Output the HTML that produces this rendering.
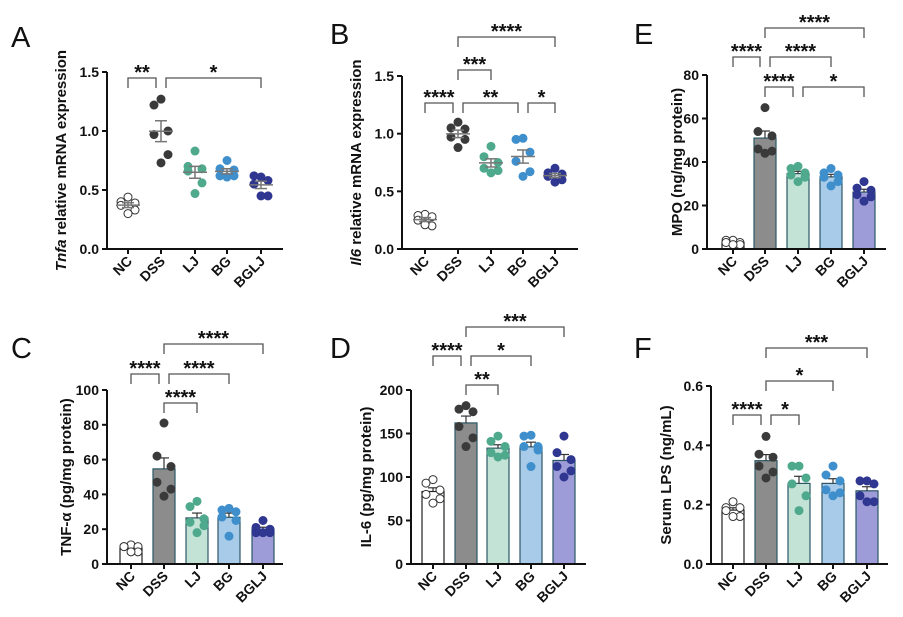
<!DOCTYPE html>
<html><head><meta charset="utf-8">
<style>
html,body{margin:0;padding:0;background:#fff;}
svg{display:block;font-family:"Liberation Sans",Arial,sans-serif;}
</style></head>
<body>
<svg id="fig" width="903" height="617" viewBox="0 0 903 617" xmlns="http://www.w3.org/2000/svg"></svg>
<script>
const categories = ["NC","DSS","LJ","BG","BGLJ"];
const tickA = ["0.0","0.5","1.0","1.5"];
const valsA = [[0.44,0.40,0.39,0.37,0.33,0.30],[1.27,1.22,1.00,0.97,0.80,0.73],[0.83,0.70,0.68,0.66,0.56,0.47],[0.75,0.68,0.67,0.62,0.62,0.61],[0.61,0.62,0.58,0.55,0.45,0.45]];
const tickB = ["0.0","0.5","1.0","1.5"];
const valsB = [[0.30,0.29,0.28,0.25,0.20,0.21],[1.10,1.05,1.04,0.97,0.95,0.88],[0.89,0.80,0.75,0.70,0.68,0.66],[0.96,0.95,0.84,0.76,0.67,0.63],[0.70,0.66,0.65,0.63,0.60,0.58]];
const tickE = ["0","20","40","60","80"];
const valsE = [[4,4,3,3,2,2],[65,54,52,46,45,44],[38,37,35,34,33,31],[37,35,34,33,31,29],[31,28,27,25,24,22]];
const tickC = ["0","20","40","60","80","100"];
const valsC = [[11,10,10,10,7,7],[81,62,56,47,43,39],[36,33,26,24,22,18],[32,31,30,27,25,16],[25,21,20,18,18,18]];
const tickD = ["0","50","100","150","200"];
const valsD = [[97,93,85,80,75,70],[182,178,175,158,145,135],[147,141,135,128,125,123],[148,147,135,135,131,112],[147,128,120,112,107,100]];
const tickF = ["0.0","0.2","0.4","0.6"];
const valsF = [[0.21,0.19,0.19,0.18,0.16,0.16],[0.43,0.37,0.36,0.33,0.31,0.29],[0.33,0.33,0.29,0.27,0.23,0.18],[0.33,0.30,0.28,0.25,0.24,0.23],[0.28,0.28,0.27,0.23,0.21,0.21]];
// brackets: [fromIndex, toIndex, yPixel, label]
const sigA = [[0,1,78,"**"],[1,4,78,"*"]];
const sigB = [[0,1,103,"****"],[1,3,103,"**"],[3,4,103,"*"],[1,2,70,"***"],[1,4,37,"****"]];
const sigE = [[1,2,87,"****"],[2,4,87,"*"],[0,1,57,"****"],[1,3,57,"****"],[1,4,28,"****"]];
const sigC = [[1,2,403,"****"],[0,1,374,"****"],[1,3,374,"****"],[1,4,344,"****"]];
const sigD = [[1,2,385,"**"],[0,1,356,"****"],[1,3,356,"*"],[1,4,327,"***"]];
const sigF = [[0,1,415,"****"],[1,2,415,"*"],[1,3,381,"*"],[1,4,348,"***"]];

const NS="http://www.w3.org/2000/svg";
const svg=document.getElementById('fig');
const barFill=["#ffffff","#8c8c8c","#c2e3d6","#a8cbe9","#9d9bd8"];
const ptFill=["#ffffff","#3a3a3a","#4fa98c","#3f8fcc","#2f3790"];
function mk(tag,attrs,parent){const e=document.createElementNS(NS,tag);for(const k in attrs)e.setAttribute(k,attrs[k]);(parent||svg).appendChild(e);return e;}
const jit=[0,-7,7,-7,7,0];

function panel(o){
  const g=mk('g',{});
  
  
  const ymax=parseFloat(o.ticks[o.ticks.length-1]);
  const Y=v=>o.y0-(v/ymax)*(o.y0-o.ytop);
  const X=i=>o.cx[i];
  const lt=mk('text',{x:o.lx,y:o.ly,'font-size':29,fill:'#111'},g);lt.textContent=o.letter;
  
  
  categories.forEach((c,i)=>{
    const v=o.vals[i];const m=v.reduce((a,b)=>a+b,0)/v.length;
    const sd=Math.sqrt(v.reduce((a,b)=>a+(b-m)*(b-m),0)/(v.length-1));const se=sd/Math.sqrt(v.length);
    if(o.bars){
      const b=mk('rect',{x:X(i)-11,y:Y(m),width:22,height:o.y0-Y(m),fill:barFill[i],stroke:i==0?'#222':'#2c5866','stroke-width':1.2},g);
      
      
      mk('line',{x1:X(i),x2:X(i),y1:Y(m+se),y2:Y(m),stroke:'#333','stroke-width':1.2},g);
      mk('line',{x1:X(i)-5,x2:X(i)+5,y1:Y(m+se),y2:Y(m+se),stroke:'#333','stroke-width':1.2},g);
    }
    v.forEach((d,j)=>{
      const p=mk('circle',{cx:X(i)+jit[j],cy:Y(d),r:4,fill:ptFill[i],stroke:i==0?'#333':ptFill[i],'stroke-width':1},g);
      
      
    });
    if(!o.bars){
      mk('line',{x1:X(i)-12,x2:X(i)+12,y1:Y(m),y2:Y(m),stroke:'#777','stroke-width':1.5},g);
      mk('line',{x1:X(i),x2:X(i),y1:Y(m+se),y2:Y(m-se),stroke:'#777','stroke-width':1.5},g);
      mk('line',{x1:X(i)-6,x2:X(i)+6,y1:Y(m+se),y2:Y(m+se),stroke:'#777','stroke-width':1.5},g);
      mk('line',{x1:X(i)-6,x2:X(i)+6,y1:Y(m-se),y2:Y(m-se),stroke:'#777','stroke-width':1.5},g);
    }
  });
  const ya=mk('line',{x1:o.ax,x2:o.ax,y1:o.ytop,y2:o.y0+1,stroke:'#111','stroke-width':2},g);
  
  const xa=mk('line',{x1:o.ax-1,x2:o.xend,y1:o.y0,y2:o.y0,stroke:'#111','stroke-width':2},g);
  
  o.ticks.forEach(t=>{
    const y=Y(parseFloat(t));
    mk('line',{x1:o.ax-5,x2:o.ax,y1:y,y2:y,stroke:'#111','stroke-width':2},g);
    const tx=mk('text',{x:o.ax-8,y:y+5,'font-size':14,'font-weight':'bold','text-anchor':'end',fill:'#111'},g);tx.textContent=t;
    
  });
  categories.forEach((c,i)=>{
    mk('line',{x1:X(i),x2:X(i),y1:o.y0,y2:o.y0+5,stroke:'#111','stroke-width':2},g);
    const tx=mk('text',{x:X(i)+5,y:o.y0+13,'font-size':14,'font-weight':'bold','text-anchor':'end',fill:'#111',transform:`rotate(-45 ${X(i)+5} ${o.y0+13})`},g);tx.textContent=c;
    
  });
  const cy=(o.ytop+o.y0)/2;
  const yl=mk('text',{x:o.ylx,y:cy,'font-size':15,'font-weight':'bold','text-anchor':'middle',fill:'#111',transform:`rotate(-90 ${o.ylx} ${cy})`},g);
  yl.innerHTML=o.ytitle;
  
  o.sig.forEach(s=>{
    const x1b=(s[0]>0&&o.sig.some(q=>q[1]===s[0]&&q[2]===s[2]))?X(s[0])+5:X(s[0]);
    const x2b=(o.sig.some(q=>q[0]===s[1]&&q[2]===s[2]))?X(s[1])-5:X(s[1]);
    const br=mk('path',{d:`M${x1b},${s[2]+10}V${s[2]}H${x2b}V${s[2]+10}`,fill:'none',stroke:'#555','stroke-width':1.3},g);
    
    const st=mk('text',{x:(x1b+x2b)/2,y:s[2]+1,'font-size':20,'font-weight':'bold','text-anchor':'middle',fill:'#111'},g);st.textContent=s[3];
    
  });
}
panel({name:'panel-a',letter:'A',lx:11,ly:47,vals:valsA,ticks:tickA,bars:false,ax:107,y0:249,ytop:72,xend:283,cx:[128,161,195,227,261],ylx:66,ytitle:'<tspan font-style="italic">Tnfa</tspan> relative mRNA expression',sig:sigA});
panel({name:'panel-b',letter:'B',lx:330,ly:44,vals:valsB,ticks:tickB,bars:false,ax:402,y0:249,ytop:76,xend:578,cx:[425,458,491,523,555],ylx:361,ytitle:'<tspan font-style="italic">Il6</tspan> relative mRNA expression',sig:sigB});
panel({name:'panel-e',letter:'E',lx:634,ly:44,vals:valsE,ticks:tickE,bars:true,ax:707,y0:249,ytop:75,xend:886,cx:[733,765,798,831,864],ylx:682,ytitle:'MPO (ng/mg protein)',sig:sigE});
panel({name:'panel-c',letter:'C',lx:11,ly:358,vals:valsC,ticks:tickC,bars:true,ax:107,y0:564,ytop:390,xend:283,cx:[131,164,197,229,263],ylx:71,ytitle:'TNF-α (pg/mg protein)',sig:sigC});
panel({name:'panel-d',letter:'D',lx:330,ly:358,vals:valsD,ticks:tickD,bars:true,ax:411,y0:564,ytop:390,xend:586,cx:[433,466,498,531,564],ylx:371,ytitle:'IL-6 (pg/mg protein)',sig:sigD});
panel({name:'panel-f',letter:'F',lx:634,ly:358,vals:valsF,ticks:tickF,bars:true,ax:711,y0:564,ytop:386,xend:888,cx:[733,766,799,833,867],ylx:671,ytitle:'Serum LPS (ng/mL)',sig:sigF});
</script>
</body></html>
